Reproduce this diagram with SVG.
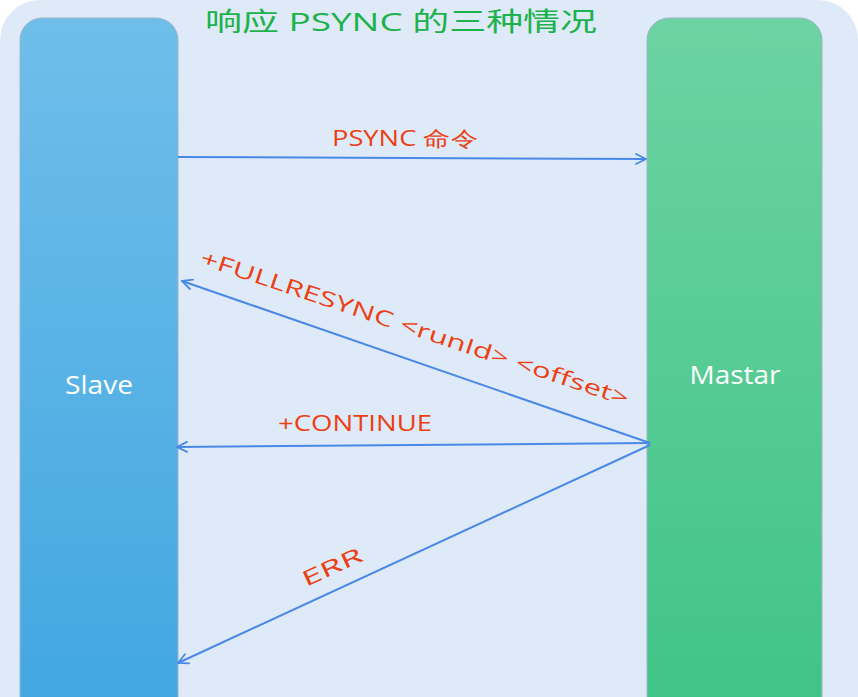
<svg xmlns="http://www.w3.org/2000/svg" width="858" height="697" viewBox="0 0 858 697">
<defs>
<linearGradient id="gs" x1="0" y1="0" x2="0" y2="1"><stop offset="0" stop-color="#6fbeea"/><stop offset="1" stop-color="#40a6e0"/></linearGradient>
<linearGradient id="gm" x1="0" y1="0" x2="0" y2="1"><stop offset="0" stop-color="#6dd3a2"/><stop offset="1" stop-color="#3ec385"/></linearGradient>
<marker id="ah" viewBox="0 0 12 12" refX="11" refY="6" markerWidth="12" markerHeight="12" markerUnits="userSpaceOnUse" orient="auto">
<path d="M1,1 L11,6 L1,11" fill="none" stroke="#4a88e6" stroke-width="1.8" stroke-linecap="round"/>
</marker>
<style>
.lbl{font-family:"Comic Sans MS","Open Sans","Liberation Sans",sans-serif;font-size:21px;fill:#ec3f14}
.node{font-family:"Comic Sans MS","Open Sans","Liberation Sans",sans-serif;font-size:25px;fill:#ffffff;text-anchor:middle}
.ln{stroke:#4a88e6;stroke-width:2;fill:none;marker-end:url(#ah)}
</style>
</defs>
<rect x="0" y="0" width="858" height="697" fill="#ffffff"/>
<rect x="0" y="0" width="858" height="760" rx="40" fill="#dfeaf8"/>
<text x="205" y="31" textLength="392" lengthAdjust="spacingAndGlyphs" font-family="'Open Sans','Noto Sans CJK SC',sans-serif" font-size="26" fill="#1cb24c">响应 PSYNC 的三种情况</text>
<g id="slave">
<rect x="20" y="18" width="158" height="720" rx="22" fill="url(#gs)" stroke="#9fb3c8" stroke-width="1"/>
<text class="node" x="99" y="394" textLength="68" lengthAdjust="spacingAndGlyphs">Slave</text>
</g>
<g id="master">
<rect x="647" y="18" width="175" height="720" rx="22" fill="url(#gm)" stroke="#9fb3c8" stroke-width="1"/>
<text class="node" x="735" y="384" textLength="91" lengthAdjust="spacingAndGlyphs">Mastar</text>
</g>
<g id="connectors">
<line class="ln" x1="178" y1="157" x2="646" y2="159"/>
<line class="ln" x1="650" y1="443" x2="182" y2="281"/>
<line class="ln" x1="650" y1="443" x2="177" y2="447"/>
<line class="ln" x1="650" y1="445" x2="178" y2="663"/>
<text class="lbl" x="332" y="146" textLength="146" lengthAdjust="spacingAndGlyphs" font-family="'Open Sans','Noto Sans CJK SC',sans-serif">PSYNC 命令</text>
<text class="lbl" transform="translate(199,264) rotate(18.4)" textLength="450" lengthAdjust="spacingAndGlyphs">+FULLRESYNC &lt;runId&gt; &lt;offset&gt;</text>
<text class="lbl" x="278" y="431" textLength="154" lengthAdjust="spacingAndGlyphs">+CONTINUE</text>
<text class="lbl" transform="translate(306,587) rotate(-24.5)" textLength="64" lengthAdjust="spacingAndGlyphs">ERR</text>
</g>
</svg>
